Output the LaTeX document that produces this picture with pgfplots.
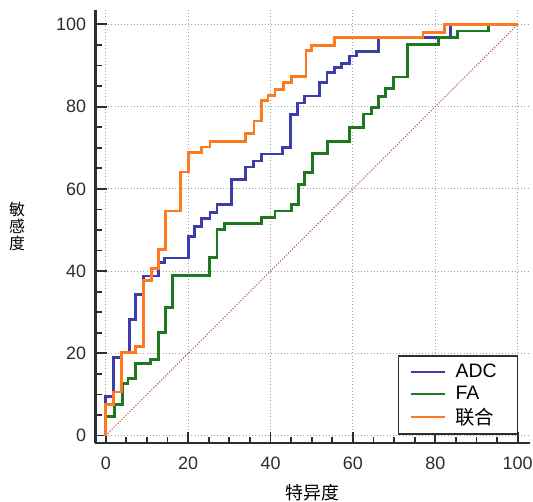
\documentclass[border=0pt]{standalone}
\usepackage{fontspec}
\setmainfont{Liberation Sans}
\newfontfamily\cjk{Noto Sans CJK SC}
\usepackage{pgfplots}
\pgfplotsset{compat=1.18}
\definecolor{adc}{RGB}{60,60,170}
\definecolor{fa}{RGB}{30,120,30}
\definecolor{lh}{RGB}{255,122,30}
\definecolor{diag}{RGB}{185,95,95}
\definecolor{axc}{RGB}{45,45,45}
\begin{document}
\begin{tikzpicture}
\begin{axis}[
  scale only axis, width=434.5bp, height=433bp,
  xmin=-2.5, xmax=103, ymin=-1.8, ymax=103.5,
  axis x line*=bottom, axis y line*=left,
  axis line style={line width=2.2bp, axc},
  xtick={0,20,...,100}, ytick={0,20,...,100},
  minor tick num=3,
  tick align=inside,
  major tick length=11bp, minor tick length=6bp,
  tick style={line width=1.8bp, axc},
  grid=major, major grid style={dash pattern=on 1bp off 2.2bp, gray!75, line width=1bp},
  ticklabel style={font=\fontsize{18}{18}\selectfont, text=axc},
  xticklabel style={yshift=-10bp},
  yticklabel style={xshift=-6bp},
  /pgf/number format/assume math mode=true,
  xlabel={特异度}, ylabel={敏\\感\\度},
  xlabel style={at={(axis description cs:0.5,0)}, anchor=center, yshift=-50bp, font=\cjk\fontsize{18}{18}\selectfont},
  ylabel style={at={(axis description cs:0,0.5)}, anchor=center, rotate=-90, xshift=-78.5bp, align=center, font=\cjk\fontsize{16}{17.5}\selectfont},
  legend style={at={(axis cs:100.2,0.2)}, anchor=south east, draw=axc, line width=1.8bp,
    font=\fontsize{19.5}{19.5}\selectfont, row sep=3bp, inner xsep=11bp, inner ysep=6bp,
    nodes={inner xsep=10bp}},
  legend cell align=left,
  legend image code/.code={\draw[#1, line width=2bp] (0bp,0bp) -- (34bp,0bp);},
]
\addplot[diag, dash pattern=on 1.2bp off 1.6bp, line width=1.1bp, forget plot] coordinates {(0,0) (100,100)};
\addplot[adc, line width=2.8bp, const plot] coordinates {
(0,0) (0,9.6) (1.9,18.9) (3.7,20.1) (5.7,28.2) (7.3,34.3) (9.1,38.8) (12.7,42) (14.3,43.2)
(20,48.5) (21.6,50.9) (23.2,52.7) (25.3,54.2) (27,56.2) (30.5,62.3) (34,65.3) (35.8,66.8)
(37.8,68.5) (42.9,70) (44.9,78.1) (46.6,80.9) (48.2,82.6) (51.8,85.8) (53.7,88.3) (55.5,89.5)
(57.3,90.5) (59.1,92.3) (60.9,93.5) (66.2,96.8) (83.6,100) (100,100)};
\addlegendentry{ADC}
\addplot[fa, line width=2.8bp, const plot] coordinates {
(0,0) (0,4.7) (2.2,7.5) (4,12.6) (5.4,13.9) (7.2,17.5) (10.9,18.5) (12.7,25) (14.5,31.1)
(16.2,38.9) (25.2,43.4) (27,50.1) (28.9,51.6) (37.8,53) (41.1,54.6) (45.1,56.2) (46.7,61.1)
(48.3,64) (50.1,68.6) (53.9,71.6) (59.2,74.9) (62.5,78.2) (64.6,79.7) (66.2,82.5) (67.9,84.4)
(69.8,87.2) (73.3,95.1) (80.8,96.8) (85.4,98.4) (92.9,100) (100,100)};
\addlegendentry{FA}
\addplot[lh, line width=2.8bp, const plot] coordinates {
(0,0) (0,7.5) (1.8,10.6) (3.8,20.3) (7.2,21.7) (9.2,37.8) (11.1,40.7) (12.7,45.3) (14.5,54.6)
(18.1,64.1) (20,68.8) (23.3,70.2) (25.3,71.5) (34,73.4) (36,76.5) (37.8,81.4) (39.4,82.7)
(41.1,84.2) (43.1,85.8) (45.1,87.4) (48.6,93.7) (50,94.8) (55.6,96.8) (77,98.1) (82.3,100) (100,100)};
\addlegendentry{\cjk 联合}
\end{axis}
\pgfresetboundingbox
\path[use as bounding box] ([xshift=-95.5bp,yshift=-59bp]current axis.south west) rectangle ([xshift=437.5bp,yshift=443bp]current axis.south west);
\end{tikzpicture}
\end{document}
